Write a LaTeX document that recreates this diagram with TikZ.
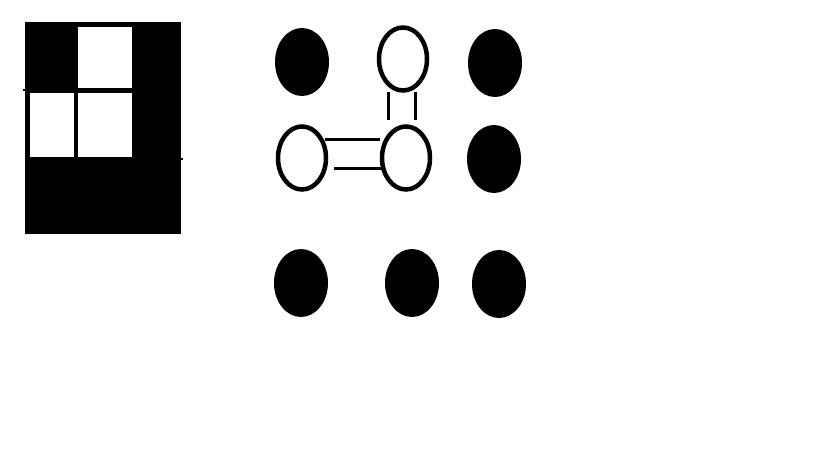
\documentclass[tikz,border=0pt]{standalone}
\usetikzlibrary{shapes.geometric,calc}
\begin{document}
\begin{tikzpicture}[x=1pt,y=-1pt,
  dot/.style={ellipse,fill=black,minimum width=54pt,minimum height=68pt,inner sep=0pt},
  ring/.style={ellipse,draw=black,line width=4.5pt,fill=white,minimum width=48pt,minimum height=63pt,inner sep=0pt},
  bar/.style={line width=3pt,draw=black},
  cell/.style={fill=white}]
\useasboundingbox (0,0) rectangle (819,460);
% grid
\fill[black] (25,22) rectangle (181,234);
\fill[white] (78,27) rectangle (132,88);
\fill[white] (30,93) rectangle (74,157);
\fill[white] (78,93) rectangle (132,157);
\fill[black] (23,89) rectangle (25,91);
\fill[black] (181,158) rectangle (183,160);
% dots
\node[dot] (a1) at (302,62) {};
\node[ring] (a2) at (403,59) {};
\node[dot] (a3) at (495,63) {};
\node[ring] (b1) at (302,158) {};
\node[ring] (b2) at (406,158) {};
\node[dot] (b3) at (494,159) {};
\node[dot] (c1) at (301,283) {};
\node[dot] (c2) at (412,283) {};
\node[dot] (c3) at (499,284) {};
% connectors
\draw[bar] ($(a2.center)+(-15,33)$) -- ($(b2.center)+(-18,-38)$);
\draw[bar] ($(a2.center)+(12,33)$) -- ($(b2.center)+(9,-38)$);
\draw[bar] ($(b1.center)+(23,-19)$) -- ($(b2.center)+(-26,-19)$);
\draw[bar] ($(b1.center)+(32,10)$) -- ($(b2.center)+(-24,10)$);
\end{tikzpicture}
\end{document}
